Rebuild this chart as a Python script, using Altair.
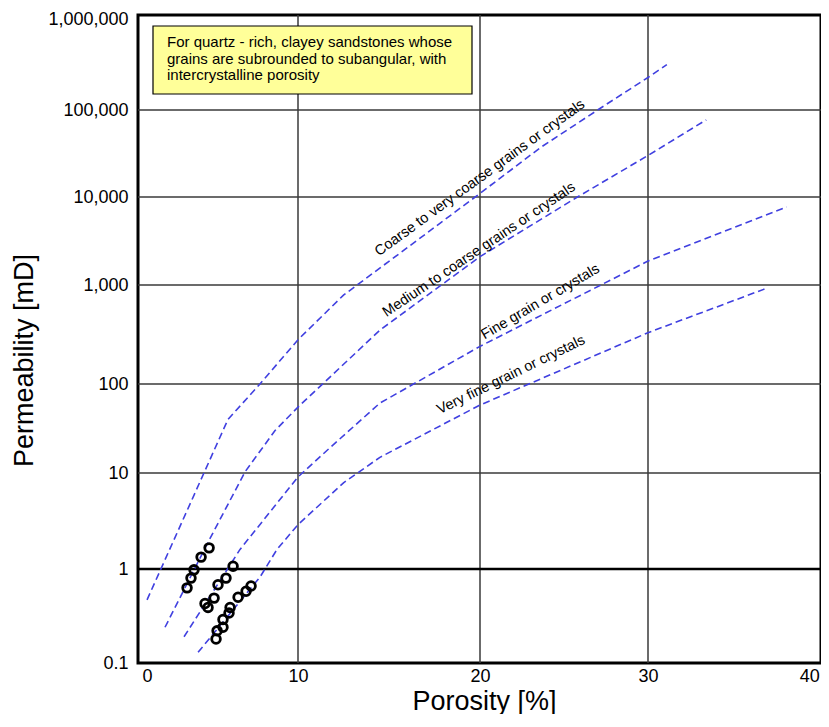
import altair as alt
import pandas as pd

FONT = "Liberation Sans, Arial, Helvetica, sans-serif"

# ---- reference curves (porosity %, permeability mD) ----
curve_names = [
    "Coarse to very coarse grains or crystals",
    "Medium to coarse grains or crystals",
    "Fine grain or crystals",
    "Very fine grain or crystals",
]
coarse_por = [0.0, 5.36, 7.48, 10.0, 12.5, 15.6, 20.0, 23.6, 27.0, 30.0, 31.1]
coarse_perm = [0.47, 40, 100, 280, 790, 2300, 11000, 37000, 100000, 220000, 300000]
medium_por = [1.19, 4.04, 6.49, 8.48, 10.0, 14.5, 20.0, 25.8, 30.0, 33.4]
medium_perm = [0.24, 1.9, 10.3, 30, 55, 350, 2100, 10000, 30000, 77000]
fine_por = [2.45, 6.16, 10.0, 11.8, 14.5, 20.0, 30.0, 38.1]
fine_perm = [0.19, 1.6, 9.1, 19.6, 61, 240, 1870, 7700]
vfine_por = [3.38, 7.48, 8.61, 10.0, 12.5, 14.5, 20.0, 30.0, 36.8]
vfine_perm = [0.13, 0.82, 1.6, 2.9, 7.9, 15, 58, 330, 910]

# ---- measured samples ----
sample_por = [4.11, 3.58, 3.11, 2.91, 2.65,
              5.70, 5.23, 4.70, 4.44, 3.84, 4.04,
              6.89, 6.56, 6.03, 5.50, 5.43, 5.03, 5.03, 4.64, 4.57]
sample_perm = [1.66, 1.33, 0.98, 0.80, 0.63,
               1.07, 0.80, 0.68, 0.49, 0.43, 0.39,
               0.66, 0.58, 0.50, 0.39, 0.34, 0.29, 0.24, 0.22, 0.18]

# ---- curve label anchors ----
label_por = [20.0, 19.95, 23.6, 21.85]
label_perm = [16500, 2500, 673, 123]
label_angles = [324, 326, 329.5, 334]

# ---- axes ----
x_ticks = [0, 10, 20, 30, 40]
y_ticks = [0.1, 1, 10, 100, 1000, 10000, 100000, 1000000]
grid_por = [10, 20, 30]
grid_perm = [10, 100, 1000, 10000, 100000]
unity_perm = [1]

note_lines = [
    "For quartz - rich, clayey sandstones whose",
    "grains are subrounded to subangular, with",
    "intercrystalline porosity",
]

x_scale = alt.Scale(domain=[-0.6, 10, 20, 30, 40.1], range=[0, 160, 342, 510, 683],
                    nice=False, zero=False)
y_scale = alt.Scale(type="log", domain=y_ticks,
                    range=[648, 554, 458, 369, 270, 182, 95, 0], nice=False)

x_axis = alt.Axis(values=x_ticks, grid=False, ticks=False, tickSize=0, domain=False,
                  labelFontSize=18, labelFont=FONT, labelColor="black",
                  labelPadding=13, labelBaseline="middle", labelFlush=False,
                  labelAlign={"condition": {"test": "datum.value >= 40", "value": "right"},
                              "value": "center"},
                  labelOverlap=False, title="Porosity [%]", titleFont=FONT,
                  titleFontSize=27, titleFontWeight="normal", titleColor="black",
                  titleX=346, titleY=46, titleAlign="center", titleBaseline="alphabetic")
y_axis = alt.Axis(values=y_ticks, grid=False, ticks=False, tickSize=0, domain=False,
                  labelExpr="format(datum.value, ',')",
                  labelFontSize=18, labelFont=FONT, labelColor="black",
                  labelPadding=10, labelFlush=False, labelOverlap=False,
                  labelOffset={"condition": {"test": "datum.value >= 1000000", "value": 4},
                               "value": 0},
                  title="Permeability [mD]", titleFont=FONT, titleFontSize=27,
                  titleFontWeight="normal", titleColor="black", titleAngle=270,
                  titleX=-106, titleY=345, titleAlign="center",
                  titleBaseline="alphabetic")


def X(field="porosity"):
    return alt.X(f"{field}:Q", scale=x_scale, axis=x_axis)


def Y(field="perm"):
    return alt.Y(f"{field}:Q", scale=y_scale, axis=y_axis)


rows = []
for name, xs, ys in zip(curve_names,
                        [coarse_por, medium_por, fine_por, vfine_por],
                        [coarse_perm, medium_perm, fine_perm, vfine_perm]):
    for i, (a, b) in enumerate(zip(xs, ys)):
        rows.append({"curve": name, "order": i, "porosity": a, "perm": b})
curves_df = pd.DataFrame(rows)

grid_v = alt.Chart(pd.DataFrame({"porosity": grid_por})).mark_rule(
    color="#3a3a3a", strokeWidth=1.5).encode(x=X())
grid_h = alt.Chart(pd.DataFrame({"perm": grid_perm})).mark_rule(
    color="#3a3a3a", strokeWidth=1.5).encode(y=Y())
unity = alt.Chart(pd.DataFrame({"perm": unity_perm})).mark_rule(
    color="black", strokeWidth=2.5).encode(y=Y())

lines = alt.Chart(curves_df).mark_line(
    color="#4040e0", strokeWidth=1.6, strokeDash=[7, 4]
).encode(x=X(), y=Y(), detail="curve:N", order="order:Q")

points = alt.Chart(pd.DataFrame({"porosity": sample_por, "perm": sample_perm})).mark_point(
    shape="circle", filled=False, color="black", strokeWidth=2.8, size=75, opacity=1
).encode(x=X(), y=Y())

label_layers = []
for name, px, py, ang in zip(curve_names, label_por, label_perm, label_angles):
    label_layers.append(
        alt.Chart(pd.DataFrame({"porosity": [px], "perm": [py], "label": [name]})).mark_text(
            angle=ang, align="center", baseline="middle", fontSize=14.5, font=FONT,
            color="black"
        ).encode(x=X(), y=Y(), text="label:N")
    )

note_box = alt.Chart(pd.DataFrame({"k": [0]})).mark_rect(
    fill="#ffff99", stroke="black", strokeWidth=1.2
).encode(x=alt.value(15), x2=alt.value(334), y=alt.value(11), y2=alt.value(79))
note_text = alt.Chart(pd.DataFrame({"k": [0]})).mark_text(
    text=note_lines, align="left", baseline="alphabetic", fontSize=15,
    lineHeight=16.5, font=FONT, color="black"
).encode(x=alt.value(29), y=alt.value(32))

chart = alt.layer(
    grid_v, grid_h, unity, lines, points, *label_layers, note_box, note_text
).properties(
    width=683, height=648,
    padding={"left": 130, "top": 7, "right": 0, "bottom": 51},
    autosize=alt.AutoSizeParams(type="none"),
).configure_view(stroke="black", strokeWidth=3)

chart.save("out.html", embed_options={"renderer": "svg", "actions": False})
